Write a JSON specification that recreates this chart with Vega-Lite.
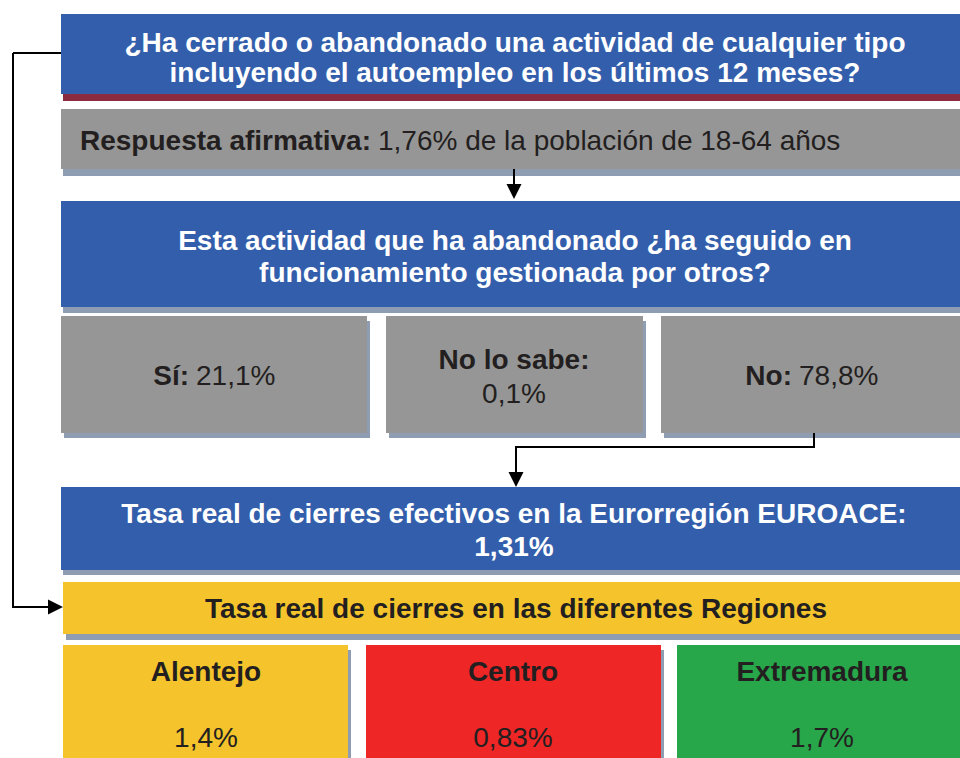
{
  "$schema": "https://vega.github.io/schema/vega-lite/v6.json",
  "width": 960,
  "height": 758,
  "padding": 0,
  "autosize": {"type": "fit", "contains": "padding"},
  "background": "white",
  "config": {"view": {"stroke": null}},
  "datasets": {
    "shadows": [
      {"x": 63, "x2": 960, "y": 94, "y2": 101, "fill": "#8B2B3F"},
      {"x": 63, "x2": 960, "y": 169, "y2": 176, "fill": "#8E9DB2"},
      {"x": 63, "x2": 960, "y": 307, "y2": 313, "fill": "#8E9DB2"},
      {"x": 64, "x2": 370, "y": 321, "y2": 438, "fill": "#8E9DB2"},
      {"x": 389, "x2": 646, "y": 321, "y2": 438, "fill": "#8E9DB2"},
      {"x": 664, "x2": 960, "y": 321, "y2": 438, "fill": "#8E9DB2"},
      {"x": 63, "x2": 960, "y": 570, "y2": 575, "fill": "#8E9DB2"},
      {"x": 66, "x2": 960, "y": 634, "y2": 640, "fill": "#8E9DB2"},
      {"x": 66, "x2": 351, "y": 650, "y2": 758, "fill": "#8E9DB2"},
      {"x": 369, "x2": 664, "y": 650, "y2": 758, "fill": "#8E9DB2"}
    ],
    "boxes": [
      {"x": 61, "x2": 960, "y": 14, "y2": 94, "fill": "#335EAB"},
      {"x": 61, "x2": 960, "y": 109, "y2": 169, "fill": "#969696"},
      {"x": 61, "x2": 960, "y": 201, "y2": 307, "fill": "#335EAB"},
      {"x": 61, "x2": 367, "y": 316, "y2": 433, "fill": "#969696"},
      {"x": 386, "x2": 643, "y": 316, "y2": 433, "fill": "#969696"},
      {"x": 661, "x2": 960, "y": 316, "y2": 433, "fill": "#969696"},
      {"x": 61, "x2": 960, "y": 487, "y2": 570, "fill": "#335EAB"},
      {"x": 63, "x2": 960, "y": 582, "y2": 634, "fill": "#F5C42C"},
      {"x": 63, "x2": 348, "y": 645, "y2": 758, "fill": "#F5C42C"},
      {"x": 366, "x2": 661, "y": 645, "y2": 758, "fill": "#EE2626"},
      {"x": 677, "x2": 960, "y": 645, "y2": 758, "fill": "#27A64A"}
    ],
    "lines": [
      {"x": 61, "x2": 13, "y": 53, "y2": 53},
      {"x": 13, "x2": 13, "y": 53, "y2": 607},
      {"x": 12, "x2": 50, "y": 607, "y2": 607},
      {"x": 514, "x2": 514, "y": 169, "y2": 186},
      {"x": 814, "x2": 814, "y": 433, "y2": 447},
      {"x": 815, "x2": 516, "y": 447, "y2": 447},
      {"x": 516, "x2": 516, "y": 446, "y2": 474}
    ],
    "arrows": [
      {"x": 55.5, "y": 607, "shape": "M-1,-1L1,0L-1,1Z"},
      {"x": 514, "y": 191.5, "shape": "M-1,-1L1,-1L0,1Z"},
      {"x": 516, "y": 479.5, "shape": "M-1,-1L1,-1L0,1Z"}
    ],
    "texts": [
      {"x": 515, "y": 52, "t": "¿Ha cerrado o abandonado una actividad de cualquier tipo", "c": "white", "s": 28, "w": "bold", "a": "center"},
      {"x": 515, "y": 82, "t": "incluyendo el autoempleo en los últimos 12 meses?", "c": "white", "s": 28, "w": "bold", "a": "center"},
      {"x": 371, "y": 150, "t": "Respuesta afirmativa:", "c": "#231F20", "s": 28, "w": "bold", "a": "right"},
      {"x": 378, "y": 150, "t": "1,76% de la población de 18-64 años", "c": "#231F20", "s": 28, "w": "normal", "a": "left"},
      {"x": 515, "y": 250, "t": "Esta actividad que ha abandonado ¿ha seguido en", "c": "white", "s": 28, "w": "bold", "a": "center"},
      {"x": 515, "y": 282, "t": "funcionamiento gestionada por otros?", "c": "white", "s": 28, "w": "bold", "a": "center"},
      {"x": 189, "y": 385, "t": "Sí:", "c": "#231F20", "s": 28, "w": "bold", "a": "right"},
      {"x": 196, "y": 385, "t": "21,1%", "c": "#231F20", "s": 28, "w": "normal", "a": "left"},
      {"x": 514, "y": 369, "t": "No lo sabe:", "c": "#231F20", "s": 28, "w": "bold", "a": "center"},
      {"x": 514, "y": 403, "t": "0,1%", "c": "#231F20", "s": 28, "w": "normal", "a": "center"},
      {"x": 792, "y": 385, "t": "No:", "c": "#231F20", "s": 28, "w": "bold", "a": "right"},
      {"x": 799, "y": 385, "t": "78,8%", "c": "#231F20", "s": 28, "w": "normal", "a": "left"},
      {"x": 514, "y": 523, "t": "Tasa real de cierres efectivos en la Eurorregión EUROACE:", "c": "white", "s": 28, "w": "bold", "a": "center"},
      {"x": 514, "y": 556, "t": "1,31%", "c": "white", "s": 28, "w": "bold", "a": "center"},
      {"x": 516, "y": 618, "t": "Tasa real de cierres en las diferentes Regiones", "c": "#231F20", "s": 28, "w": "bold", "a": "center"},
      {"x": 206, "y": 681, "t": "Alentejo", "c": "#231F20", "s": 28, "w": "bold", "a": "center"},
      {"x": 206, "y": 747, "t": "1,4%", "c": "#231F20", "s": 28, "w": "normal", "a": "center"},
      {"x": 513, "y": 681, "t": "Centro", "c": "#231F20", "s": 28, "w": "bold", "a": "center"},
      {"x": 513, "y": 747, "t": "0,83%", "c": "#231F20", "s": 28, "w": "normal", "a": "center"},
      {"x": 822, "y": 681, "t": "Extremadura", "c": "#231F20", "s": 28, "w": "bold", "a": "center"},
      {"x": 822, "y": 747, "t": "1,7%", "c": "#231F20", "s": 28, "w": "normal", "a": "center"}
    ]
  },
  "resolve": {"scale": {"x": "shared", "y": "shared"}},
  "layer": [
    {
      "data": {"name": "shadows"},
      "mark": {"type": "rect"},
      "encoding": {
        "x": {"field": "x", "type": "quantitative", "scale": {"domain": [0, 960], "nice": false, "zero": false}, "axis": null},
        "x2": {"field": "x2"},
        "y": {"field": "y", "type": "quantitative", "scale": {"domain": [0, 758], "nice": false, "zero": false, "reverse": true}, "axis": null},
        "y2": {"field": "y2"},
        "color": {"field": "fill", "type": "nominal", "scale": null}
      }
    },
    {
      "data": {"name": "boxes"},
      "mark": {"type": "rect"},
      "encoding": {
        "x": {"field": "x", "type": "quantitative", "axis": null},
        "x2": {"field": "x2"},
        "y": {"field": "y", "type": "quantitative", "axis": null},
        "y2": {"field": "y2"},
        "color": {"field": "fill", "type": "nominal", "scale": null}
      }
    },
    {
      "data": {"name": "lines"},
      "mark": {"type": "rule", "color": "black", "strokeWidth": 2},
      "encoding": {
        "x": {"field": "x", "type": "quantitative", "axis": null},
        "x2": {"field": "x2"},
        "y": {"field": "y", "type": "quantitative", "axis": null},
        "y2": {"field": "y2"}
      }
    },
    {
      "data": {"name": "arrows"},
      "mark": {"type": "point", "filled": true, "color": "black", "opacity": 1, "size": 225},
      "encoding": {
        "x": {"field": "x", "type": "quantitative", "axis": null},
        "y": {"field": "y", "type": "quantitative", "axis": null},
        "shape": {"field": "shape", "type": "nominal", "scale": null}
      }
    },
    {
      "data": {"name": "texts"},
      "transform": [{"filter": "datum.a === 'center' && datum.w === 'bold'"}],
      "mark": {"type": "text", "font": "Liberation Sans", "fontWeight": "bold", "align": "center", "baseline": "alphabetic"},
      "encoding": {
        "x": {"field": "x", "type": "quantitative", "axis": null},
        "y": {"field": "y", "type": "quantitative", "axis": null},
        "text": {"field": "t"},
        "color": {"field": "c", "type": "nominal", "scale": null},
        "size": {"field": "s", "type": "quantitative", "scale": null}
      }
    },
    {
      "data": {"name": "texts"},
      "transform": [{"filter": "datum.a === 'center' && datum.w === 'normal'"}],
      "mark": {"type": "text", "font": "Liberation Sans", "fontWeight": "normal", "align": "center", "baseline": "alphabetic"},
      "encoding": {
        "x": {"field": "x", "type": "quantitative", "axis": null},
        "y": {"field": "y", "type": "quantitative", "axis": null},
        "text": {"field": "t"},
        "color": {"field": "c", "type": "nominal", "scale": null},
        "size": {"field": "s", "type": "quantitative", "scale": null}
      }
    },
    {
      "data": {"name": "texts"},
      "transform": [{"filter": "datum.a === 'right'"}],
      "mark": {"type": "text", "font": "Liberation Sans", "fontWeight": "bold", "align": "right", "baseline": "alphabetic"},
      "encoding": {
        "x": {"field": "x", "type": "quantitative", "axis": null},
        "y": {"field": "y", "type": "quantitative", "axis": null},
        "text": {"field": "t"},
        "color": {"field": "c", "type": "nominal", "scale": null},
        "size": {"field": "s", "type": "quantitative", "scale": null}
      }
    },
    {
      "data": {"name": "texts"},
      "transform": [{"filter": "datum.a === 'left'"}],
      "mark": {"type": "text", "font": "Liberation Sans", "fontWeight": "normal", "align": "left", "baseline": "alphabetic"},
      "encoding": {
        "x": {"field": "x", "type": "quantitative", "axis": null},
        "y": {"field": "y", "type": "quantitative", "axis": null},
        "text": {"field": "t"},
        "color": {"field": "c", "type": "nominal", "scale": null},
        "size": {"field": "s", "type": "quantitative", "scale": null}
      }
    }
  ]
}
